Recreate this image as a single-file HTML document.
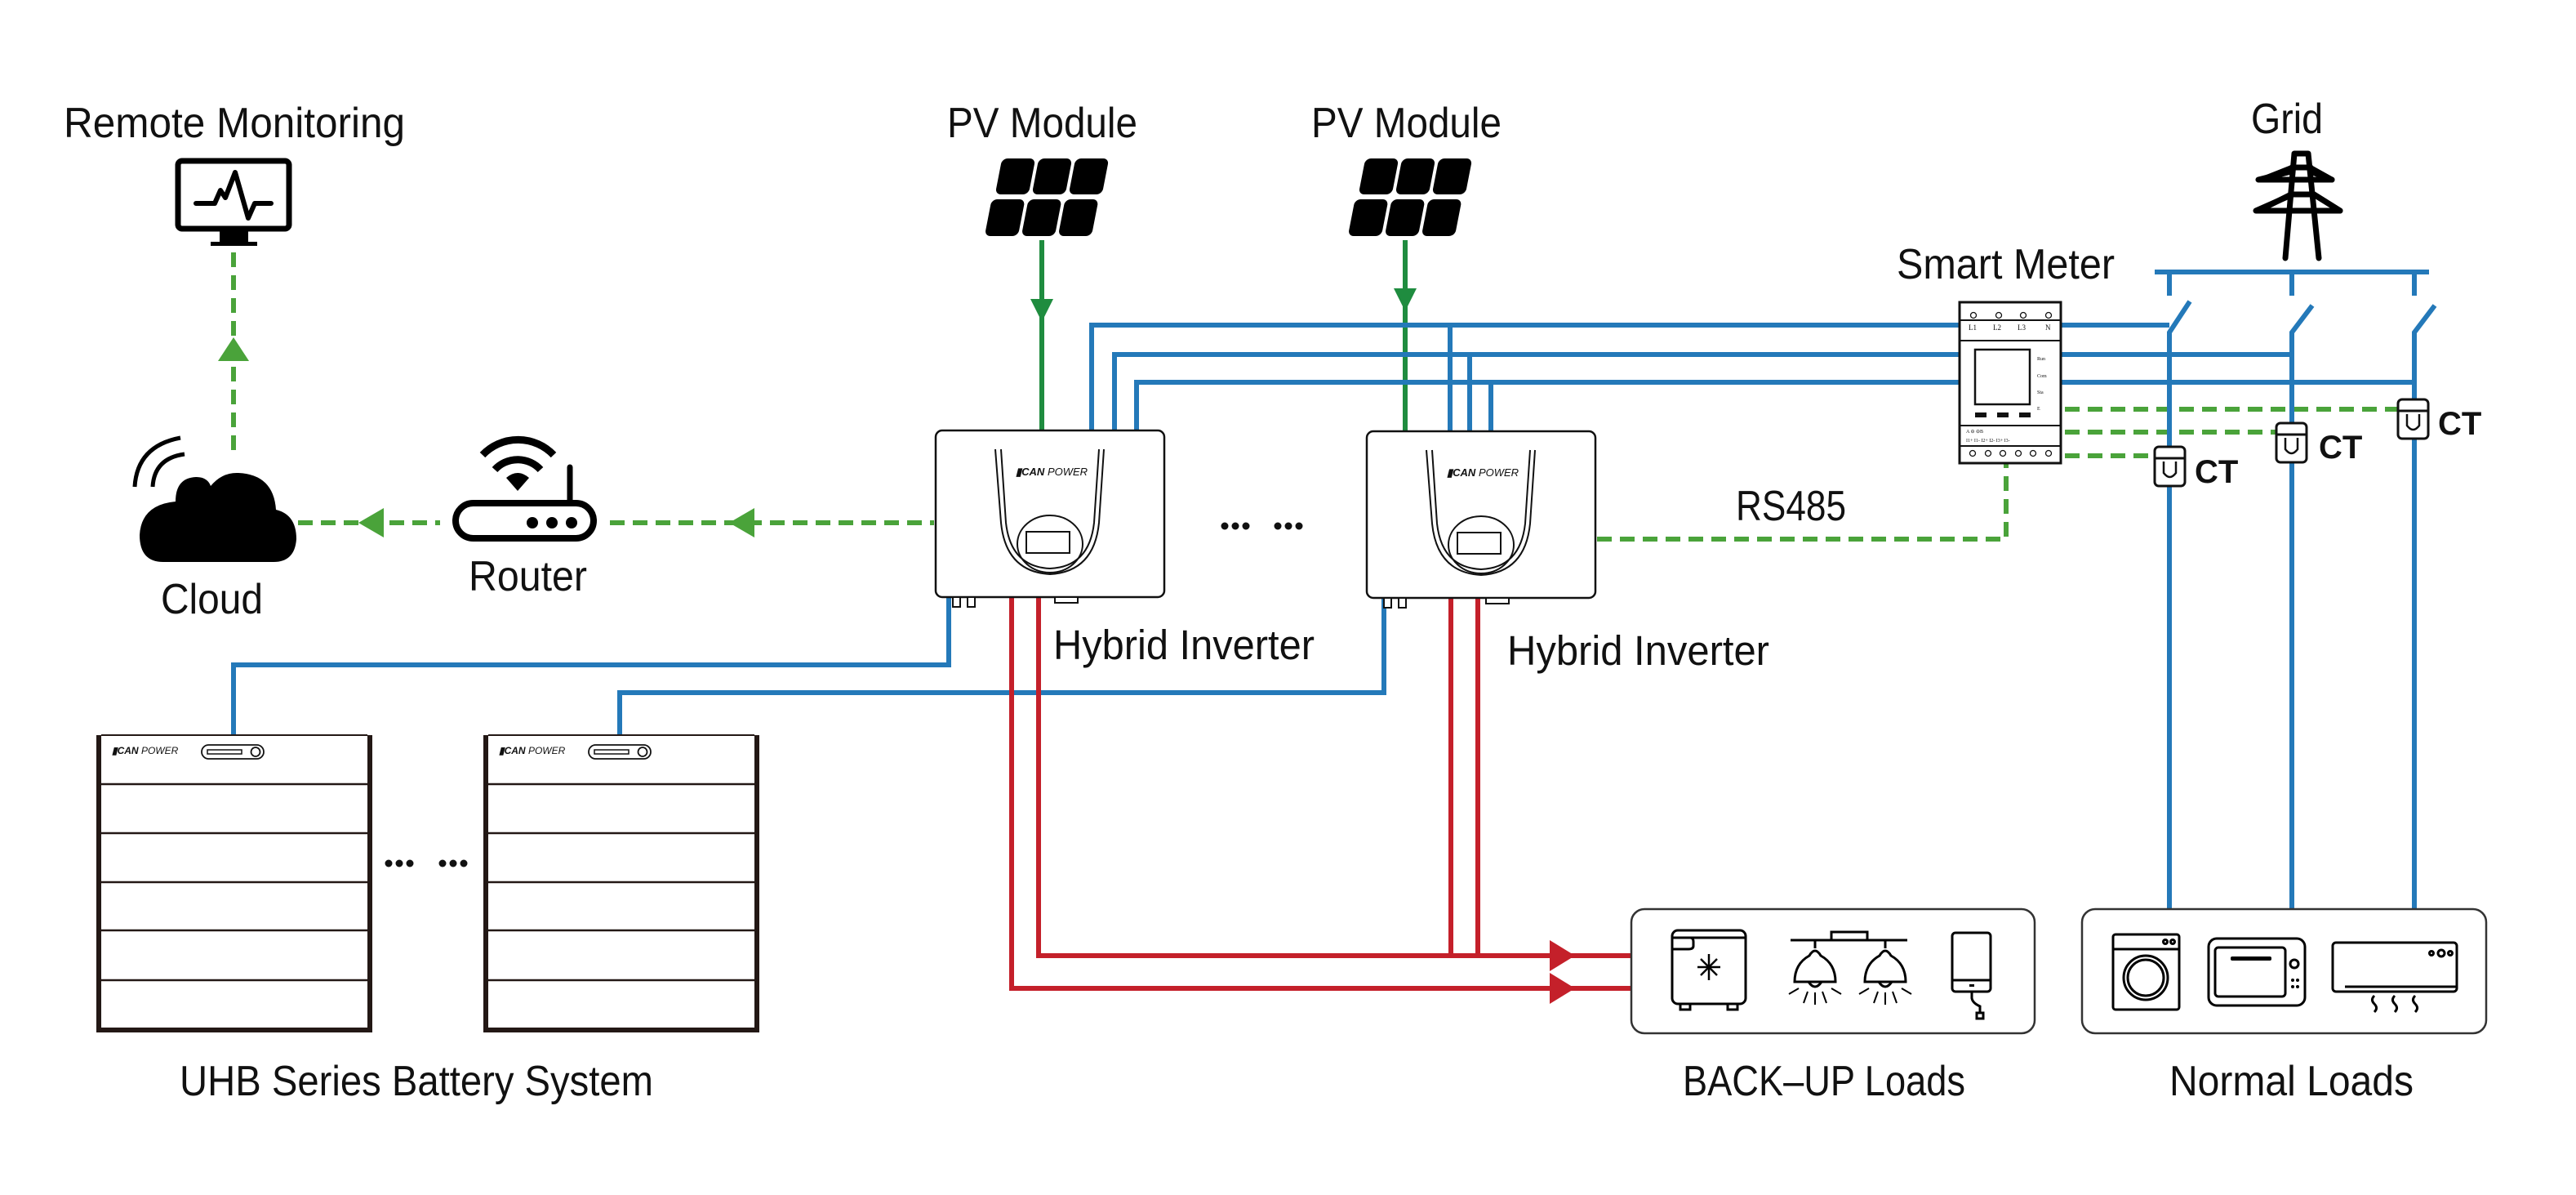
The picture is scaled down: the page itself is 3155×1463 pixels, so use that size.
<!DOCTYPE html>
<html><head><meta charset="utf-8"><style>
html,body{margin:0;padding:0;background:#fff}
svg{display:block}
text{font-family:"Liberation Sans",sans-serif;fill:#111}
</style></head><body>
<svg width="3155" height="1463" viewBox="0 0 3155 1463" xmlns="http://www.w3.org/2000/svg">
<defs>
<g id="pv">
  <g transform="translate(1206,0) skewX(-11)">
    <rect x="59" y="194" width="41" height="44" rx="7"/>
    <rect x="104" y="194" width="41" height="44" rx="7"/>
    <rect x="149" y="194" width="41" height="44" rx="7"/>
    <rect x="56" y="244" width="41" height="45" rx="7"/>
    <rect x="101" y="244" width="41" height="45" rx="7"/>
    <rect x="146" y="244" width="41" height="45" rx="7"/>
  </g>
</g>
<g id="inv">
  <rect x="1146" y="527" width="280" height="204" rx="8" fill="#fff" stroke="#111" stroke-width="2.5"/>
  <path d="M1219,550 L1226,640 Q1232,700 1286,703 Q1340,700 1346,640 L1352,550" fill="none" stroke="#111" stroke-width="2"/>
  <path d="M1226,550 L1232,640 Q1238,694 1286,696 Q1334,694 1340,640 L1346,550" fill="none" stroke="#111" stroke-width="2"/>
  <ellipse cx="1286" cy="666" rx="40" ry="35" fill="none" stroke="#111" stroke-width="2"/>
  <rect x="1257" y="651" width="53" height="26" fill="none" stroke="#111" stroke-width="2"/>
  <text x="1244" y="582" font-size="13" font-weight="bold" font-style="italic">▮CAN <tspan font-weight="normal">POWER</tspan></text>
  <rect x="1167" y="731" width="9" height="12" fill="#fff" stroke="#111" stroke-width="2"/>
  <rect x="1185" y="731" width="9" height="12" fill="#fff" stroke="#111" stroke-width="2"/>
  <rect x="1292" y="731" width="28" height="7" fill="#fff" stroke="#111" stroke-width="2"/>
</g>
<g id="bat">
  <rect x="121" y="903" width="332" height="358" fill="#fff" stroke="#231815" stroke-width="6"/>
  <rect x="124" y="900" width="326" height="8" fill="#fff"/>
  <line x1="124" y1="900" x2="450" y2="900" stroke="#231815" stroke-width="2"/>
  <g stroke="#231815" stroke-width="2.5">
    <line x1="121" y1="960" x2="453" y2="960"/>
    <line x1="121" y1="1020" x2="453" y2="1020"/>
    <line x1="121" y1="1080" x2="453" y2="1080"/>
    <line x1="121" y1="1139" x2="453" y2="1139"/>
    <line x1="121" y1="1200" x2="453" y2="1200"/>
  </g>
  <text x="137" y="923" font-size="12" font-weight="bold" font-style="italic">▮CAN <tspan font-weight="normal">POWER</tspan></text>
  <rect x="247" y="912" width="76" height="17" rx="8.5" fill="none" stroke="#111" stroke-width="1.8"/>
  <rect x="254" y="918" width="42" height="5" fill="none" stroke="#111" stroke-width="1.5"/>
  <circle cx="313" cy="920.5" r="5.5" fill="none" stroke="#111" stroke-width="1.8"/>
</g>
<g id="ct">
  <rect x="0" y="0" width="37" height="48" rx="5" fill="#fff" stroke="#111" stroke-width="3"/>
  <line x1="0" y1="14" x2="37" y2="14" stroke="#111" stroke-width="3"/>
  <path d="M11,18 L11,32 Q18.5,42 26,32 L26,18" fill="none" stroke="#111" stroke-width="2.5"/>
</g>
</defs>

<!-- texts -->
<text x="78" y="168" font-size="52" textLength="418" lengthAdjust="spacingAndGlyphs">Remote Monitoring</text>
<text x="1160" y="168" font-size="52" textLength="233" lengthAdjust="spacingAndGlyphs">PV Module</text>
<text x="1606" y="168" font-size="52" textLength="233" lengthAdjust="spacingAndGlyphs">PV Module</text>
<text x="2757" y="163" font-size="52" textLength="88" lengthAdjust="spacingAndGlyphs">Grid</text>
<text x="2323" y="341" font-size="52" textLength="267" lengthAdjust="spacingAndGlyphs">Smart Meter</text>
<text x="197" y="751" font-size="52" textLength="125" lengthAdjust="spacingAndGlyphs">Cloud</text>
<text x="574" y="723" font-size="52" textLength="145" lengthAdjust="spacingAndGlyphs">Router</text>
<text x="1290" y="807" font-size="51" textLength="320" lengthAdjust="spacingAndGlyphs">Hybrid Inverter</text>
<text x="1846" y="814" font-size="51" textLength="321" lengthAdjust="spacingAndGlyphs">Hybrid Inverter</text>
<text x="2126" y="637" font-size="52" textLength="135" lengthAdjust="spacingAndGlyphs">RS485</text>
<text x="220" y="1341" font-size="52" textLength="580" lengthAdjust="spacingAndGlyphs">UHB Series Battery System</text>
<text x="2061" y="1341" font-size="52" textLength="346" lengthAdjust="spacingAndGlyphs">BACK–UP Loads</text>
<text x="2657" y="1341" font-size="52" textLength="299" lengthAdjust="spacingAndGlyphs">Normal Loads</text>
<text x="2986" y="532" font-size="40" font-weight="bold">CT</text>
<text x="2840" y="561" font-size="40" font-weight="bold">CT</text>
<text x="2688" y="591" font-size="40" font-weight="bold">CT</text>

<!-- dots -->
<g fill="#111">
  <circle cx="1500" cy="644" r="4.5"/><circle cx="1513" cy="644" r="4.5"/><circle cx="1526" cy="644" r="4.5"/>
  <circle cx="1565" cy="644" r="4.5"/><circle cx="1578" cy="644" r="4.5"/><circle cx="1591" cy="644" r="4.5"/>
  <circle cx="476" cy="1057" r="4.5"/><circle cx="489" cy="1057" r="4.5"/><circle cx="502" cy="1057" r="4.5"/>
  <circle cx="542" cy="1057" r="4.5"/><circle cx="555" cy="1057" r="4.5"/><circle cx="568" cy="1057" r="4.5"/>
</g>

<!-- monitor -->
<rect x="218" y="197" width="136" height="83" rx="5" fill="none" stroke="#000" stroke-width="7"/>
<rect x="269" y="283" width="35" height="14" fill="#000"/>
<rect x="258" y="296" width="57" height="5" fill="#000"/>
<polyline points="240,249 263,249 270,233 276,242 288,211 304,267 312,249 332,249" fill="none" stroke="#000" stroke-width="6" stroke-linejoin="round" stroke-linecap="round"/>

<!-- cloud -->
<path d="M200,688 Q171,688 171,655 Q173,618 215,614 Q215,585 240,584 Q254,584 258,595 Q272,578 292,579 Q335,581 338,624 Q363,630 363,660 Q361,688 335,688 Z" fill="#000"/>
<path d="M165,596 Q168,546 221,536" fill="none" stroke="#000" stroke-width="5"/>
<path d="M187,596 Q189,561 226,556" fill="none" stroke="#000" stroke-width="5"/>

<!-- router -->
<rect x="558" y="616" width="169" height="43" rx="21.5" fill="none" stroke="#000" stroke-width="8"/>
<circle cx="652" cy="640" r="7"/><circle cx="676" cy="640" r="7"/><circle cx="700" cy="640" r="7"/>
<line x1="698" y1="572" x2="698" y2="614" stroke="#000" stroke-width="7" stroke-linecap="round"/>
<path d="M591,557 A60,60 0 0 1 678,557" fill="none" stroke="#000" stroke-width="9"/>
<path d="M606,575 A38,38 0 0 1 662,575" fill="none" stroke="#000" stroke-width="9"/>
<path d="M620,585 Q634,573 648,585 L634,601 Z" fill="#000"/>

<!-- green dashed comms -->
<g stroke="#4aa33a" stroke-width="6" stroke-dasharray="18,10" fill="none">
  <line x1="286" y1="309" x2="286" y2="557"/>
  <line x1="365" y1="640" x2="539" y2="640"/>
  <line x1="747" y1="640" x2="1144" y2="640"/>
  <polyline points="1956,660 2457,660 2457,568"/>
  <line x1="2529" y1="501" x2="2937" y2="501"/>
  <line x1="2529" y1="529" x2="2787" y2="529"/>
  <line x1="2529" y1="558" x2="2639" y2="558"/>
</g>
<g fill="#4aa33a">
  <polygon points="286,413 267,442 305,442"/>
  <polygon points="439,640 470,622 470,658"/>
  <polygon points="893,640 924,622 924,658"/>
</g>

<!-- PV modules -->
<use href="#pv"/>
<use href="#pv" transform="translate(445,0)"/>
<g stroke="#1f8c3f" stroke-width="6">
  <line x1="1276" y1="294" x2="1276" y2="528"/>
  <line x1="1721" y1="294" x2="1721" y2="528"/>
</g>
<g fill="#1f8c3f">
  <polygon points="1262,366 1290,366 1276,394"/>
  <polygon points="1707,353 1735,353 1721,381"/>
</g>

<!-- blue lines -->
<g stroke="#2479b9" stroke-width="6" fill="none">
  <polyline points="1337,528 1337,398 2400,398"/>
  <polyline points="1365,528 1365,434 2400,434"/>
  <polyline points="1392,528 1392,468 2400,468"/>
  <line x1="1776" y1="398" x2="1776" y2="528"/>
  <line x1="1800" y1="434" x2="1800" y2="528"/>
  <line x1="1826" y1="468" x2="1826" y2="528"/>
  <line x1="2525" y1="398" x2="2657" y2="398"/>
  <line x1="2525" y1="434" x2="2807" y2="434"/>
  <line x1="2525" y1="468" x2="2957" y2="468"/>
  <line x1="2639" y1="333" x2="2975" y2="333"/>
  <line x1="2657" y1="333" x2="2657" y2="362"/>
  <line x1="2807" y1="333" x2="2807" y2="362"/>
  <line x1="2957" y1="333" x2="2957" y2="362"/>
  <polyline points="2682,369 2657,407 2657,1113"/>
  <polyline points="2832,374 2807,407 2807,1113"/>
  <polyline points="2982,374 2957,407 2957,1113"/>
  <polyline points="1162,731 1162,814 286,814 286,900"/>
  <polyline points="1695,731 1695,848 759,848 759,900"/>
</g>

<!-- red lines -->
<g stroke="#c4202a" stroke-width="6" fill="none">
  <polyline points="1239,731 1239,1210 1998,1210"/>
  <polyline points="1272,731 1272,1170 1998,1170"/>
  <line x1="1777" y1="731" x2="1777" y2="1170"/>
  <line x1="1810" y1="731" x2="1810" y2="1170"/>
</g>
<g fill="#c4202a">
  <polygon points="1898,1151 1929,1170 1898,1189"/>
  <polygon points="1898,1191 1929,1210 1898,1229"/>
</g>

<!-- inverters -->
<use href="#inv"/>
<use href="#inv" transform="translate(528,1)"/>

<!-- batteries -->
<use href="#bat"/>
<use href="#bat" transform="translate(474,0)"/>

<!-- grid tower -->
<g stroke="#000" stroke-width="7" fill="none" stroke-linejoin="round" stroke-linecap="round">
  <path d="M2799,316 L2810,188 L2827,188 L2840,316"/>
  <path d="M2766,220 L2806,210 M2766,220 L2856,220 L2830,210"/>
  <path d="M2763,258 L2808,238 M2763,258 L2866,258 L2834,238"/>
  <line x1="2807" y1="205" x2="2830" y2="205"/>
  <line x1="2806" y1="238" x2="2834" y2="238"/>
  <line x1="2770" y1="220" x2="2808" y2="205"/>
  <line x1="2856" y1="220" x2="2829" y2="205"/>
  <line x1="2766" y1="258" x2="2806" y2="238"/>
  <line x1="2866" y1="258" x2="2834" y2="238"/>
</g>

<!-- smart meter -->
<g stroke="#111" fill="none">
  <rect x="2400" y="370" width="124" height="197" stroke-width="3" fill="#fff"/>
  <line x1="2400" y1="392" x2="2524" y2="392" stroke-width="2"/>
  <line x1="2400" y1="417" x2="2524" y2="417" stroke-width="2"/>
  <line x1="2400" y1="521" x2="2524" y2="521" stroke-width="2"/>
  <line x1="2400" y1="546" x2="2524" y2="546" stroke-width="2"/>
  <rect x="2419" y="428" width="67" height="67" stroke-width="2.5"/>
  <g stroke-width="1.3">
    <circle cx="2417" cy="386" r="3.5"/><circle cx="2448" cy="386" r="3.5"/><circle cx="2478" cy="386" r="3.5"/><circle cx="2509" cy="386" r="3.5"/>
    <circle cx="2416" cy="555" r="3.5"/><circle cx="2435" cy="555" r="3.5"/><circle cx="2453" cy="555" r="3.5"/><circle cx="2472" cy="555" r="3.5"/><circle cx="2490" cy="555" r="3.5"/><circle cx="2509" cy="555" r="3.5"/>
  </g>
</g>
<g fill="#111">
  <rect x="2419" y="505" width="14" height="6"/><rect x="2446" y="505" width="14" height="6"/><rect x="2473" y="505" width="14" height="6"/>
</g>
<g font-size="9">
  <text x="2411" y="404" style="font-family:'Liberation Serif',serif">L1</text>
  <text x="2441" y="404" style="font-family:'Liberation Serif',serif">L2</text>
  <text x="2471" y="404" style="font-family:'Liberation Serif',serif">L3</text>
  <text x="2505" y="404" style="font-family:'Liberation Serif',serif">N</text>
  <text x="2495" y="441" font-size="6" style="font-family:'Liberation Serif',serif">Run</text>
  <text x="2495" y="462" font-size="6" style="font-family:'Liberation Serif',serif">Com</text>
  <text x="2495" y="482" font-size="6" style="font-family:'Liberation Serif',serif">Sta</text>
  <text x="2495" y="502" font-size="6" style="font-family:'Liberation Serif',serif">E</text>
  <text x="2408" y="530" font-size="6" style="font-family:'Liberation Serif',serif">A ⊖   ⊖B</text>
  <text x="2408" y="541" font-size="6" style="font-family:'Liberation Serif',serif">I1+ I1- I2+ I2- I3+ I3-</text>
</g>

<!-- CTs -->
<use href="#ct" transform="translate(2937,489)"/>
<use href="#ct" transform="translate(2788,518)"/>
<use href="#ct" transform="translate(2639,547)"/>

<!-- load boxes -->
<rect x="1998" y="1113" width="494" height="152" rx="16" fill="none" stroke="#333" stroke-width="2.5"/>
<rect x="2550" y="1113" width="495" height="152" rx="16" fill="none" stroke="#333" stroke-width="2.5"/>

<!-- backup icons -->
<g stroke="#000" stroke-width="3" fill="none">
  <rect x="2048" y="1139" width="90" height="90" rx="7"/>
  <path d="M2048,1148 L2070,1148 Q2074,1148 2074,1153 L2074,1158 Q2074,1162 2068,1162 L2048,1162"/>
  <line x1="2048" y1="1148" x2="2138" y2="1148"/>
  <rect x="2058" y="1229" width="12" height="7"/><rect x="2116" y="1229" width="12" height="7"/>
  <g stroke-width="2.5"><line x1="2093" y1="1168" x2="2093" y2="1200"/><line x1="2079" y1="1184" x2="2107" y2="1184"/><line x1="2083" y1="1174" x2="2103" y2="1194"/><line x1="2103" y1="1174" x2="2083" y2="1194"/></g>
  <line x1="2193" y1="1151" x2="2336" y2="1151"/>
  <rect x="2243" y="1141" width="44" height="10"/>
  <line x1="2223" y1="1151" x2="2223" y2="1161"/><line x1="2309" y1="1151" x2="2309" y2="1161"/>
  <path d="M2216,1170 Q2223,1158 2230,1170 Q2248,1180 2248,1202 L2198,1202 Q2198,1180 2216,1170 Z"/>
  <path d="M2302,1170 Q2309,1158 2316,1170 Q2334,1180 2334,1202 L2284,1202 Q2284,1180 2302,1170 Z"/>
  <path d="M2215,1202 Q2223,1214 2231,1202"/><path d="M2301,1202 Q2309,1214 2317,1202"/>
  <g stroke-width="2"><line x1="2203" y1="1210" x2="2191" y2="1217"/><line x1="2214" y1="1214" x2="2209" y2="1228"/><line x1="2223" y1="1215" x2="2223" y2="1230"/><line x1="2232" y1="1214" x2="2237" y2="1228"/><line x1="2243" y1="1210" x2="2255" y2="1217"/>
  <line x1="2289" y1="1210" x2="2277" y2="1217"/><line x1="2300" y1="1214" x2="2295" y2="1228"/><line x1="2309" y1="1215" x2="2309" y2="1230"/><line x1="2318" y1="1214" x2="2323" y2="1228"/><line x1="2329" y1="1210" x2="2341" y2="1217"/></g>
  <rect x="2391" y="1142" width="47" height="72" rx="4"/>
  <line x1="2391" y1="1200" x2="2438" y2="1200"/>
  <path d="M2415,1214 L2415,1222 Q2416,1228 2425,1232 L2425,1240"/>
  <rect x="2421" y="1240" width="8" height="7"/>
</g>
<rect x="2412" y="1205" width="6" height="3" fill="#000"/>

<!-- normal icons -->
<g stroke="#000" stroke-width="3" fill="none">
  <rect x="2588" y="1144" width="81" height="92" rx="3"/>
  <line x1="2588" y1="1162" x2="2669" y2="1162"/>
  <circle cx="2652" cy="1153" r="2.5"/><circle cx="2661" cy="1153" r="2.5"/>
  <circle cx="2628" cy="1197" r="27"/><circle cx="2628" cy="1197" r="22"/>
  <rect x="2705" y="1149" width="118" height="82" rx="10"/>
  <rect x="2713" y="1160" width="86" height="60" rx="4"/>
  <circle cx="2810" cy="1180" r="5"/>
  <rect x="2857" y="1154" width="152" height="60" rx="4"/>
  <line x1="2872" y1="1208" x2="3009" y2="1208"/>
  <circle cx="2978" cy="1167" r="2.5"/><circle cx="2990" cy="1167" r="4"/><circle cx="3001" cy="1167" r="2.5"/>
  <path d="M2908,1219 Q2903,1224 2908,1229 Q2913,1234 2908,1239"/>
  <path d="M2933,1219 Q2928,1224 2933,1229 Q2938,1234 2933,1239"/>
  <path d="M2958,1219 Q2953,1224 2958,1229 Q2963,1234 2958,1239"/>
</g>
<rect x="2732" y="1171" width="50" height="5" rx="2" fill="#000"/>
<g fill="#000"><circle cx="2808" cy="1200" r="2"/><circle cx="2814" cy="1200" r="2"/><circle cx="2808" cy="1208" r="2"/><circle cx="2814" cy="1208" r="2"/></g>
</svg>
</body></html>
